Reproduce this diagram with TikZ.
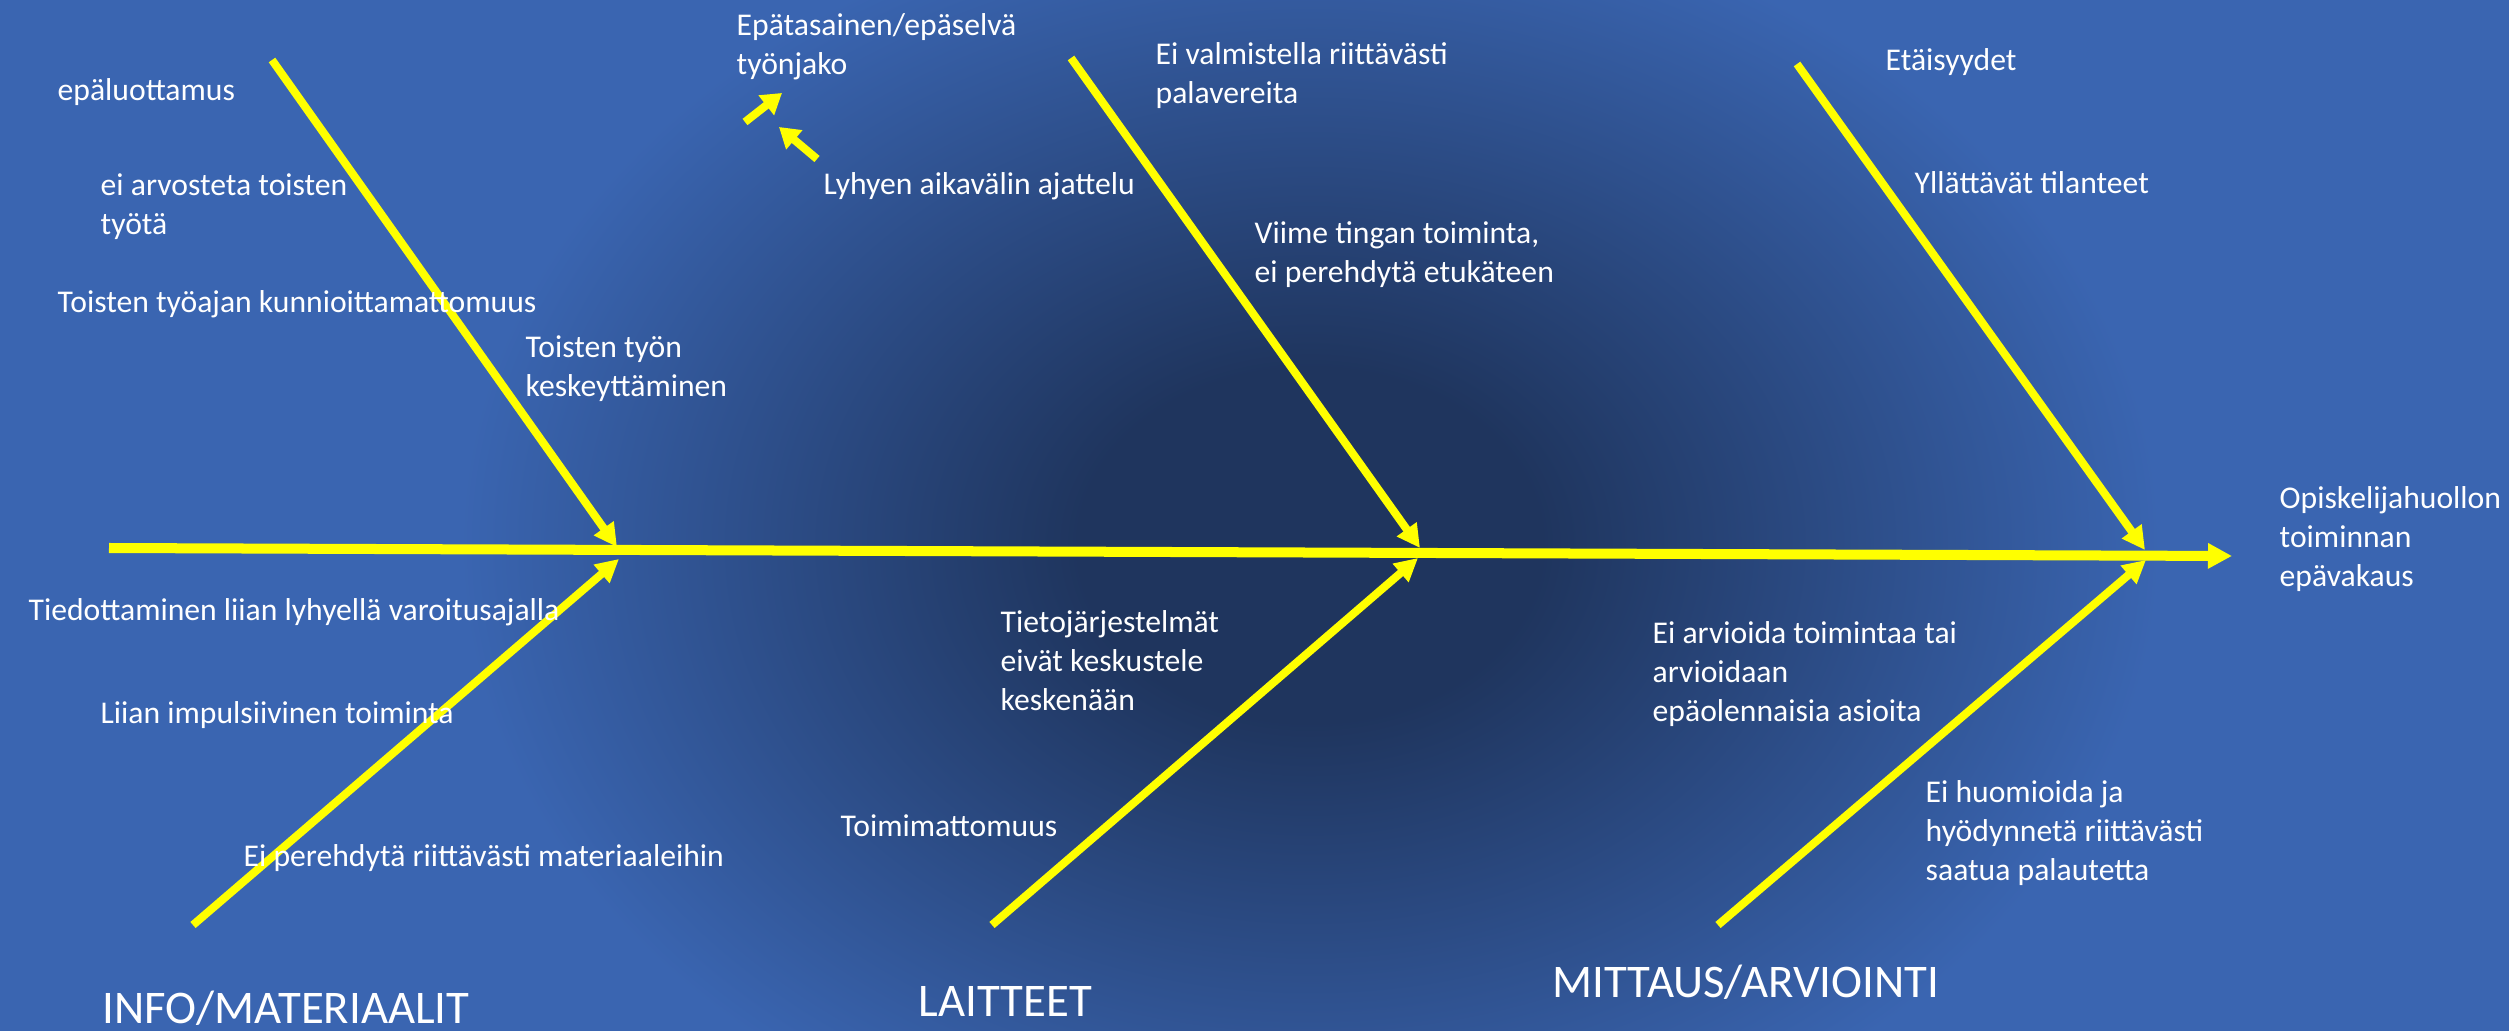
\documentclass[tikz,border=0pt]{standalone}
\usepackage{fontspec}
\setmainfont{Carlito}
\usetikzlibrary{arrows.meta}

\definecolor{taustaTumma}{RGB}{31,53,94}
\definecolor{taustaVaalea}{RGB}{58,101,177}
\definecolor{taustaReuna}{RGB}{45,83,150}
\definecolor{keltainen}{RGB}{255,255,0}

\pgfdeclareradialshading{tausta}{\pgfpoint{0bp}{0bp}}{color(0bp)=(taustaTumma); color(3.4bp)=(taustaTumma); color(12.5bp)=(taustaVaalea); color(23.5bp)=(taustaVaalea); color(50bp)=(taustaReuna)}

\tikzset{
	teksti/.style={text=white, inner sep=0pt, align=left, font=\fontsize{9}{11.1}\selectfont},
	otsikko/.style={text=white, inner sep=0pt, anchor=base west, font=\fontsize{13.3}{16}\selectfont},
	ruoto/.style={draw=keltainen, line width=0.08cm, -{Triangle[length=0.23cm,width=0.23cm]}},
	selka/.style={draw=keltainen, line width=0.1cm, -{Triangle[length=0.24cm,width=0.24cm]}},
	pieni/.style={draw=keltainen, line width=0.08cm, -{Triangle[length=0.2cm,width=0.24cm]}}
}

\begin{document}
\begin{tikzpicture}[x=0.01cm,y=-0.01cm]
		\useasboundingbox (0,0) rectangle (2509,1031);
		\clip (0,0) rectangle (2509,1031);
		\fill[taustaReuna] (0,0) rectangle (2509,1031);
		\shade[shading=tausta] (1310,545) ellipse [x radius=1700, y radius=1300];

		%Selkaranka
		\coordinate (selka-alku) at (109,548);
		\coordinate (selka-loppu) at (2232,556);
		\draw[selka] (selka-alku) -- (selka-loppu);

		%Ruodot
		\coordinate (yla1-alku) at (272,60);
		\coordinate (yla1-karki) at (617,547);
		\coordinate (yla2-alku) at (1071,58);
		\coordinate (yla2-karki) at (1420,548);
		\coordinate (yla3-alku) at (1797,64);
		\coordinate (yla3-karki) at (2145,550);
		\coordinate (ala1-alku) at (193,925);
		\coordinate (ala1-karki) at (619,559);
		\coordinate (ala2-alku) at (992,925);
		\coordinate (ala2-karki) at (1418,558);
		\coordinate (ala3-alku) at (1718,925);
		\coordinate (ala3-karki) at (2146,560);
		\foreach \r in {yla1, yla2, yla3, ala1, ala2, ala3}{
			\draw[ruoto] (\r-alku) -- (\r-karki);
		}

		%Pienet nuolet
		\coordinate (pieni1-alku) at (745,122);
		\coordinate (pieni1-karki) at (782,93);
		\coordinate (pieni2-alku) at (817,159);
		\coordinate (pieni2-karki) at (779,127);
		\foreach \p in {pieni1, pieni2}{
			\draw[pieni] (\p-alku) -- (\p-karki);
		}

		%Ylarivi
		\node[teksti, anchor=base west] (epaluottamus) at (57,101) {epäluottamus};
		\node[teksti, anchor=north west] (arvostus) at (100,173) {ei arvosteta toisten\\työtä};
		\node[teksti, anchor=base west] (tyoaika) at (57,313) {Toisten työajan kunnioittamattomuus};
		\node[teksti, anchor=north west] (keskeytys) at (525,335) {Toisten työn\\keskeyttäminen};
		\node[teksti, anchor=north west] (tyonjako) at (736,13) {Epätasainen/epäselvä\\työnjako};
		\node[teksti, anchor=base west] (lyhyt) at (823,195) {Lyhyen aikavälin ajattelu};
		\node[teksti, anchor=north west] (palaverit) at (1155,42) {Ei valmistella riittävästi\\palavereita};
		\node[teksti, anchor=north west] (viime) at (1254,221) {Viime tingan toiminta,\\ei perehdytä etukäteen};
		\node[teksti, anchor=base west] (etaisyydet) at (1885,71) {Etäisyydet};
		\node[teksti, anchor=base west] (yllattavat) at (1914,194) {Yllättävät tilanteet};

		%Seuraus
		\node[teksti, anchor=north west] (seuraus) at (2279,486) {Opiskelijahuollon\\toiminnan\\epävakaus};

		%Alarivi
		\node[teksti, anchor=base west] (tiedotus) at (28,621) {Tiedottaminen liian lyhyellä varoitusajalla};
		\node[teksti, anchor=base west] (impulssi) at (100,723) {Liian impulsiivinen toiminta};
		\node[teksti, anchor=base west] (materiaali) at (243,866) {Ei perehdytä riittävästi materiaaleihin};
		\node[teksti, anchor=north west] (tietojarj) at (1000,610) {Tietojärjestelmät\\eivät keskustele\\keskenään};
		\node[teksti, anchor=base west] (toimimatt) at (840,836) {Toimimattomuus};
		\node[teksti, anchor=north west] (arviointi) at (1652,621) {Ei arvioida toimintaa tai\\arvioidaan\\epäolennaisia asioita};
		\node[teksti, anchor=north west] (palaute) at (1925,780) {Ei huomioida ja\\hyödynnetä riittävästi\\saatua palautetta};

		%Paaluokat
		\node[otsikko] (info) at (102,1023) {INFO/MATERIAALIT};
		\node[otsikko] (laitteet) at (918,1016) {LAITTEET};
		\node[otsikko] (mittaus) at (1552,997) {MITTAUS/ARVIOINTI};
\end{tikzpicture}
\end{document}
